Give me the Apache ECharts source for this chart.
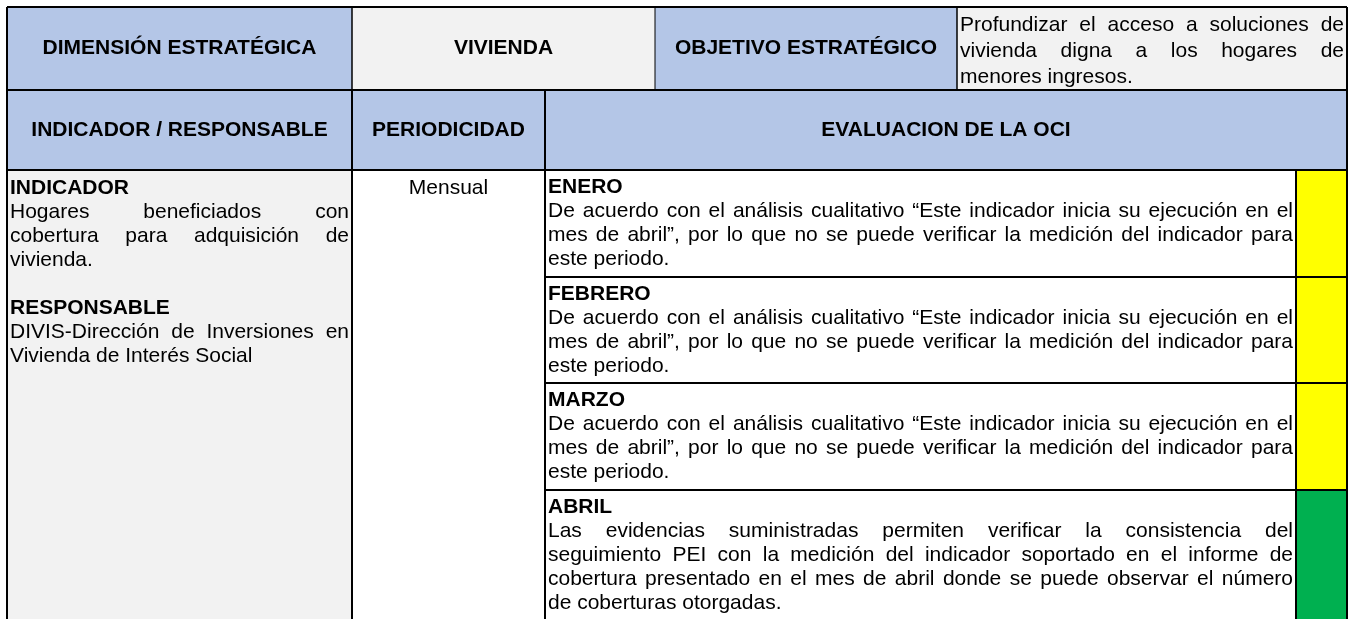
<!DOCTYPE html>
<html><head><meta charset="utf-8">
<script src="https://cdn.jsdelivr.net/npm/echarts@6/dist/echarts.min.js"></script>
<style>html,body{margin:0;padding:0;background:#fff}#main{width:1354px;height:619px}</style>
</head><body><div id="main"></div>
<script>
// ---------------- data ----------------
const dimensionLabel = 'DIMENSIÓN ESTRATÉGICA';
const dimensionValue = 'VIVIENDA';
const objectiveLabel = 'OBJETIVO ESTRATÉGICO';
const objectiveValue = 'Profundizar el acceso a soluciones de\nvivienda digna a los hogares de\nmenores ingresos.';
const columnHeaders = ['INDICADOR / RESPONSABLE', 'PERIODICIDAD', 'EVALUACION DE LA OCI'];
const indicatorLabel = 'INDICADOR';
const indicatorText = 'Hogares beneficiados con\ncobertura para adquisición de\nvivienda.';
const responsibleLabel = 'RESPONSABLE';
const responsibleText = 'DIVIS-Dirección de Inversiones en\nVivienda de Interés Social';
const periodicity = 'Mensual';
const months = ['ENERO', 'FEBRERO', 'MARZO', 'ABRIL'];
const evaluations = [
  'De acuerdo con el análisis cualitativo “Este indicador inicia su ejecución en el\nmes de abril”, por lo que no se puede verificar la medición del indicador para\neste periodo.',
  'De acuerdo con el análisis cualitativo “Este indicador inicia su ejecución en el\nmes de abril”, por lo que no se puede verificar la medición del indicador para\neste periodo.',
  'De acuerdo con el análisis cualitativo “Este indicador inicia su ejecución en el\nmes de abril”, por lo que no se puede verificar la medición del indicador para\neste periodo.',
  'Las evidencias suministradas permiten verificar la consistencia del\nseguimiento PEI con la medición del indicador soportado en el informe de\ncobertura presentado en el mes de abril donde se puede observar el número\nde coberturas otorgadas.'
];
const statuses = ['amarillo', 'amarillo', 'amarillo', 'verde'];

// ---------------- layout & style ----------------
const X = [7, 352, 545, 655, 957, 1296, 1347];
const Y = [7, 90, 170];
const BODY_ROWS = [107, 106, 107, 150];
const BOTTOM = 660;
const FONT_SIZE = 21;
const LINE_H = 24;
const FAMILY = '"Liberation Sans", Arial, sans-serif';
const BLUE = '#B4C6E7', GREY = '#F2F2F2', WHITE = '#FFFFFF';
const STATUS_COLORS = { amarillo: '#FFFF00', verde: '#00B050' };

const rowY = [Y[2]];
BODY_ROWS.forEach(h => rowY.push(rowY[rowY.length - 1] + h));

const measureCtx = document.createElement('canvas').getContext('2d');
function fontStr(bold) { return (bold ? 'bold ' : '') + FONT_SIZE + 'px ' + FAMILY; }
function measure(t, bold) { measureCtx.font = fontStr(bold); return measureCtx.measureText(t).width; }

// Build paragraphs -> lines
function para(text, bold, justify) {
  const ls = text.split('\n');
  return ls.map((t, i) => ({ text: t, bold: bold, justify: justify && i < ls.length - 1 }));
}

const cells = [];
// header row 1
cells.push({ x0: X[0], x1: X[1], y0: Y[0], y1: Y[1], fill: BLUE, align: 'center', lines: para(dimensionLabel, true) });
cells.push({ x0: X[1], x1: X[3], y0: Y[0], y1: Y[1], fill: GREY, align: 'center', lines: para(dimensionValue, true) });
cells.push({ x0: X[3], x1: X[4], y0: Y[0], y1: Y[1], fill: BLUE, align: 'center', lines: para(objectiveLabel, true) });
cells.push({ x0: X[4], x1: X[6], y0: Y[0], y1: Y[1], fill: GREY, align: 'left', padTop: 18, lineH: 26, lines: para(objectiveValue, false, true) });
// header row 2
cells.push({ x0: X[0], x1: X[1], y0: Y[1], y1: Y[2], fill: BLUE, align: 'center', lines: para(columnHeaders[0], true) });
cells.push({ x0: X[1], x1: X[2], y0: Y[1], y1: Y[2], fill: BLUE, align: 'center', lines: para(columnHeaders[1], true) });
cells.push({ x0: X[2], x1: X[6], y0: Y[1], y1: Y[2], fill: BLUE, align: 'center', lines: para(columnHeaders[2], true) });
// body: indicator / responsible
cells.push({ x0: X[0], x1: X[1], y0: Y[2], y1: BOTTOM, fill: GREY, align: 'left', padTop: 18,
  lines: [].concat(para(indicatorLabel, true), para(indicatorText, false, true), [{ text: '' }],
                   para(responsibleLabel, true), para(responsibleText, false, true)) });
// periodicity
cells.push({ x0: X[1], x1: X[2], y0: Y[2], y1: BOTTOM, fill: WHITE, align: 'center', padTop: 18, lines: para(periodicity, false) });
// months
months.forEach((m, i) => {
  const y0 = rowY[i], y1 = i === months.length - 1 ? BOTTOM : rowY[i + 1];
  cells.push({ x0: X[2], x1: X[5], y0: y0, y1: y1, fill: WHITE, align: 'left', padTop: 17.5,
    lines: [].concat(para(m, true), para(evaluations[i], false, true)) });
  cells.push({ x0: X[5], x1: X[6], y0: y0, y1: y1, fill: STATUS_COLORS[statuses[i]], lines: [] });
});

// borders [x0,y0,x1,y1,width]
const borders = [
  [X[0], Y[0], X[6], Y[0], 2], [X[0], Y[0], X[0], BOTTOM, 2], [X[6], Y[0], X[6], BOTTOM, 2],
  [X[0], Y[1], X[6], Y[1], 2], [X[0], Y[2], X[6], Y[2], 2],
  [X[1], Y[0], X[1], Y[1], 1.5], [X[3], Y[0], X[3], Y[1], 1], [X[4], Y[0], X[4], Y[1], 1.5],
  [X[1], Y[1], X[1], BOTTOM, 2], [X[2], Y[1], X[2], BOTTOM, 2], [X[5], Y[2], X[5], BOTTOM, 2]
];
for (let i = 1; i < months.length; i++) borders.push([X[2], rowY[i], X[6], rowY[i], 2]);

function renderCell(params, api) {
  const c = cells[api.value(0)];
  const p0 = api.coord([c.x0, c.y0]), p1 = api.coord([c.x1, c.y1]);
  const children = [{ type: 'rect', shape: { x: p0[0], y: p0[1], width: p1[0] - p0[0], height: p1[1] - p0[1] }, style: { fill: c.fill } }];
  const lh = c.lineH || LINE_H;
  const n = c.lines.length;
  const top = c.padTop != null ? p0[1] + c.padTop : (p0[1] + p1[1]) / 2 - (n - 1) * lh / 2;
  const left = p0[0] + 3, right = p1[0] - 3;
  c.lines.forEach((ln, k) => {
    if (!ln.text) return;
    const y = top + k * lh;
    const font = fontStr(ln.bold);
    if (c.align === 'center') {
      children.push({ type: 'text', style: { x: (p0[0] + p1[0]) / 2, y: y, text: ln.text, font: font, fill: '#000', align: 'center', verticalAlign: 'middle' } });
    } else if (ln.justify) {
      const words = ln.text.split(' ');
      const ws = words.map(w => measure(w, ln.bold));
      const sum = ws.reduce((a, b) => a + b, 0);
      const gap = words.length > 1 ? Math.max((right - left - sum) / (words.length - 1), measure(' ', ln.bold)) : 0;
      let x = left;
      words.forEach((w, j) => {
        children.push({ type: 'text', style: { x: x, y: y, text: w, font: font, fill: '#000', align: 'left', verticalAlign: 'middle' } });
        x += ws[j] + gap;
      });
    } else {
      children.push({ type: 'text', style: { x: left, y: y, text: ln.text, font: font, fill: '#000', align: 'left', verticalAlign: 'middle' } });
    }
  });
  return { type: 'group', children: children };
}

function renderBorder(params, api) {
  const b = borders[api.value(0)];
  const p0 = api.coord([b[0], b[1]]), p1 = api.coord([b[2], b[3]]);
  return { type: 'line', shape: { x1: p0[0], y1: p0[1], x2: p1[0], y2: p1[1] }, style: { stroke: '#000', lineWidth: b[4] } };
}

const chart = echarts.init(document.getElementById('main'), null, { renderer: 'canvas' });
chart.setOption({
  animation: false,
  backgroundColor: '#fff',
  grid: { left: 0, right: 0, top: 0, bottom: 0 },
  xAxis: { type: 'value', min: 0, max: 1354, show: false },
  yAxis: { type: 'value', min: 0, max: 619, inverse: true, show: false },
  series: [
    { type: 'custom', renderItem: renderCell, data: cells.map((c, i) => [i, 0]), clip: false, silent: true },
    { type: 'custom', renderItem: renderBorder, data: borders.map((b, i) => [i, 0]), clip: false, silent: true, z: 5 }
  ]
});
</script></body></html>
